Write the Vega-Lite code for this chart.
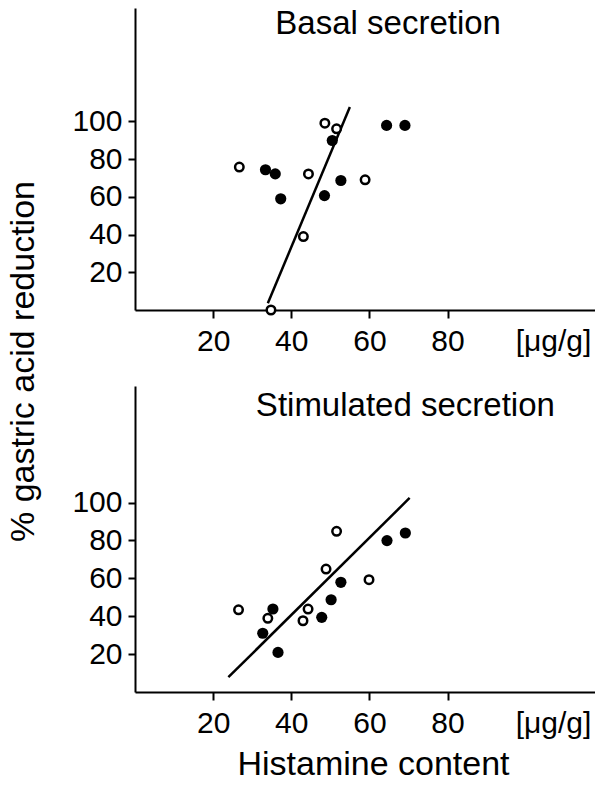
{
  "$schema": "https://vega.github.io/schema/vega-lite/v6.json",
  "background": "white",
  "padding": {"left": 5, "top": 8, "right": 0, "bottom": 0},
  "bounds": "flush",
  "spacing": 76,
  "config": {
    "view": {"stroke": null},
    "font": "Liberation Sans",
    "axis": {
      "grid": false,
      "domainColor": "black",
      "domainWidth": 2,
      "tickColor": "black",
      "tickWidth": 2,
      "labelColor": "black",
      "labelFont": "Liberation Sans",
      "labelFontSize": 30,
      "labelFontWeight": "normal",
      "titleFont": "Liberation Sans",
      "titleFontSize": 34,
      "titleFontWeight": "normal",
      "titleColor": "black"
    }
  },
  "datasets": {
    "points": [
      {"panel": "basal", "kind": "open", "histamine": 26.7, "reduction": 75.7},
      {"panel": "basal", "kind": "open", "histamine": 48.6, "reduction": 99},
      {"panel": "basal", "kind": "open", "histamine": 51.6, "reduction": 96},
      {"panel": "basal", "kind": "open", "histamine": 44.4, "reduction": 72.1},
      {"panel": "basal", "kind": "open", "histamine": 58.9, "reduction": 69},
      {"panel": "basal", "kind": "open", "histamine": 43.1, "reduction": 38.9},
      {"panel": "basal", "kind": "open", "histamine": 34.8, "reduction": 0},
      {"panel": "basal", "kind": "filled", "histamine": 33.4, "reduction": 74.3},
      {"panel": "basal", "kind": "filled", "histamine": 35.9, "reduction": 72.1},
      {"panel": "basal", "kind": "filled", "histamine": 37.3, "reduction": 58.9},
      {"panel": "basal", "kind": "filled", "histamine": 50.5, "reduction": 89.8},
      {"panel": "basal", "kind": "filled", "histamine": 52.7, "reduction": 68.6},
      {"panel": "basal", "kind": "filled", "histamine": 48.5, "reduction": 60.6},
      {"panel": "basal", "kind": "filled", "histamine": 64.4, "reduction": 97.8},
      {"panel": "basal", "kind": "filled", "histamine": 69.1, "reduction": 97.8},
      {"panel": "stimulated", "kind": "open", "histamine": 26.5, "reduction": 43.4},
      {"panel": "stimulated", "kind": "open", "histamine": 34.0, "reduction": 38.9},
      {"panel": "stimulated", "kind": "open", "histamine": 43.0, "reduction": 37.6},
      {"panel": "stimulated", "kind": "open", "histamine": 44.3, "reduction": 43.8},
      {"panel": "stimulated", "kind": "open", "histamine": 48.9, "reduction": 64.9},
      {"panel": "stimulated", "kind": "open", "histamine": 51.6, "reduction": 84.8},
      {"panel": "stimulated", "kind": "open", "histamine": 59.9, "reduction": 59.3},
      {"panel": "stimulated", "kind": "filled", "histamine": 35.3, "reduction": 43.8},
      {"panel": "stimulated", "kind": "filled", "histamine": 32.7, "reduction": 31},
      {"panel": "stimulated", "kind": "filled", "histamine": 36.6, "reduction": 20.9},
      {"panel": "stimulated", "kind": "filled", "histamine": 47.8, "reduction": 39.4},
      {"panel": "stimulated", "kind": "filled", "histamine": 50.2, "reduction": 48.7},
      {"panel": "stimulated", "kind": "filled", "histamine": 52.7, "reduction": 57.9},
      {"panel": "stimulated", "kind": "filled", "histamine": 64.5, "reduction": 79.9},
      {"panel": "stimulated", "kind": "filled", "histamine": 69.2, "reduction": 83.9}
    ],
    "fits": [
      {"panel": "basal", "histamine": 34.0, "reduction": 3.6},
      {"panel": "basal", "histamine": 55.0, "reduction": 107.5},
      {"panel": "stimulated", "histamine": 23.9, "reduction": 7.8},
      {"panel": "stimulated", "histamine": 70.3, "reduction": 102.4}
    ],
    "titles": [
      {"panel": "basal", "label": "Basal secretion"},
      {"panel": "stimulated", "label": "Stimulated secretion"}
    ]
  },
  "vconcat": [
    {
      "width": 461,
      "height": 302,
      "layer": [
        {"data": {"name": "fits"}, "transform": [{"filter": "datum.panel === 'basal'"}],
         "mark": {"type": "line", "color": "black", "strokeWidth": 2.5},
         "encoding": {
           "x": {"field": "histamine", "type": "quantitative",
                 "scale": {"domain": [0, 118], "nice": false, "zero": false},
                 "axis": {"title": null, "values": [20, 40, 60, 80, 107], "tickSize": 8, "labelPadding": 8,
                          "labelExpr": "datum.value > 100 ? '[μg/g]' : datum.label",
                          "labelFlush": false, "labelOverlap": false,
                          "tickOpacity": {"condition": {"test": "datum.value > 100", "value": 0}, "value": 1}}},
           "y": {"field": "reduction", "type": "quantitative",
                 "scale": {"domain": [0, 160], "nice": false},
                 "axis": {"title": null, "values": [20, 40, 60, 80, 100], "tickSize": 7, "labelPadding": 6}}
         }},
        {"data": {"name": "points"}, "transform": [{"filter": "datum.panel === 'basal' && datum.kind === 'filled'"}],
         "mark": {"type": "circle", "size": 125, "color": "black", "opacity": 1},
         "encoding": {"x": {"field": "histamine", "type": "quantitative"}, "y": {"field": "reduction", "type": "quantitative"}}},
        {"data": {"name": "points"}, "transform": [{"filter": "datum.panel === 'basal' && datum.kind === 'open'"}],
         "mark": {"type": "point", "shape": "circle", "size": 72, "filled": false, "fill": "white", "fillOpacity": 1, "stroke": "black", "strokeWidth": 2.5, "opacity": 1},
         "encoding": {"x": {"field": "histamine", "type": "quantitative"}, "y": {"field": "reduction", "type": "quantitative"}}},
        {"data": {"name": "titles"}, "transform": [{"filter": "datum.panel === 'basal'"}],
         "mark": {"type": "text", "font": "Liberation Sans", "fontSize": 33, "align": "center", "baseline": "alphabetic", "color": "black"},
         "encoding": {"x": {"datum": 64.8, "type": "quantitative"}, "y": {"datum": 146.2, "type": "quantitative"}, "text": {"field": "label"}}}
      ]
    },
    {
      "width": 461,
      "height": 306,
      "layer": [
        {"data": {"name": "fits"}, "transform": [{"filter": "datum.panel === 'stimulated'"}],
         "mark": {"type": "line", "color": "black", "strokeWidth": 2.5},
         "encoding": {
           "x": {"field": "histamine", "type": "quantitative",
                 "scale": {"domain": [0, 118], "nice": false, "zero": false},
                 "axis": {"title": "Histamine content", "titleX": 238, "titleY": 82, "titleBaseline": "alphabetic", "titleAlign": "center",
                          "values": [20, 40, 60, 80, 107], "tickSize": 8, "labelPadding": 8,
                          "labelExpr": "datum.value > 100 ? '[μg/g]' : datum.label",
                          "labelFlush": false, "labelOverlap": false,
                          "tickOpacity": {"condition": {"test": "datum.value > 100", "value": 0}, "value": 1}}},
           "y": {"field": "reduction", "type": "quantitative",
                 "scale": {"domain": [0, 161.5], "nice": false},
                 "axis": {"title": "% gastric acid reduction", "titleX": -129, "titleY": -25, "titleAngle": 270,
                          "titleBaseline": "top", "titleAlign": "center",
                          "values": [20, 40, 60, 80, 100], "tickSize": 7, "labelPadding": 6}}
         }},
        {"data": {"name": "points"}, "transform": [{"filter": "datum.panel === 'stimulated' && datum.kind === 'filled'"}],
         "mark": {"type": "circle", "size": 125, "color": "black", "opacity": 1},
         "encoding": {"x": {"field": "histamine", "type": "quantitative"}, "y": {"field": "reduction", "type": "quantitative"}}},
        {"data": {"name": "points"}, "transform": [{"filter": "datum.panel === 'stimulated' && datum.kind === 'open'"}],
         "mark": {"type": "point", "shape": "circle", "size": 72, "filled": false, "fill": "white", "fillOpacity": 1, "stroke": "black", "strokeWidth": 2.5, "opacity": 1},
         "encoding": {"x": {"field": "histamine", "type": "quantitative"}, "y": {"field": "reduction", "type": "quantitative"}}},
        {"data": {"name": "titles"}, "transform": [{"filter": "datum.panel === 'stimulated'"}],
         "mark": {"type": "text", "font": "Liberation Sans", "fontSize": 33, "align": "center", "baseline": "alphabetic", "color": "black"},
         "encoding": {"x": {"datum": 69.2, "type": "quantitative"}, "y": {"datum": 145.7, "type": "quantitative"}, "text": {"field": "label"}}}
      ]
    }
  ]
}
